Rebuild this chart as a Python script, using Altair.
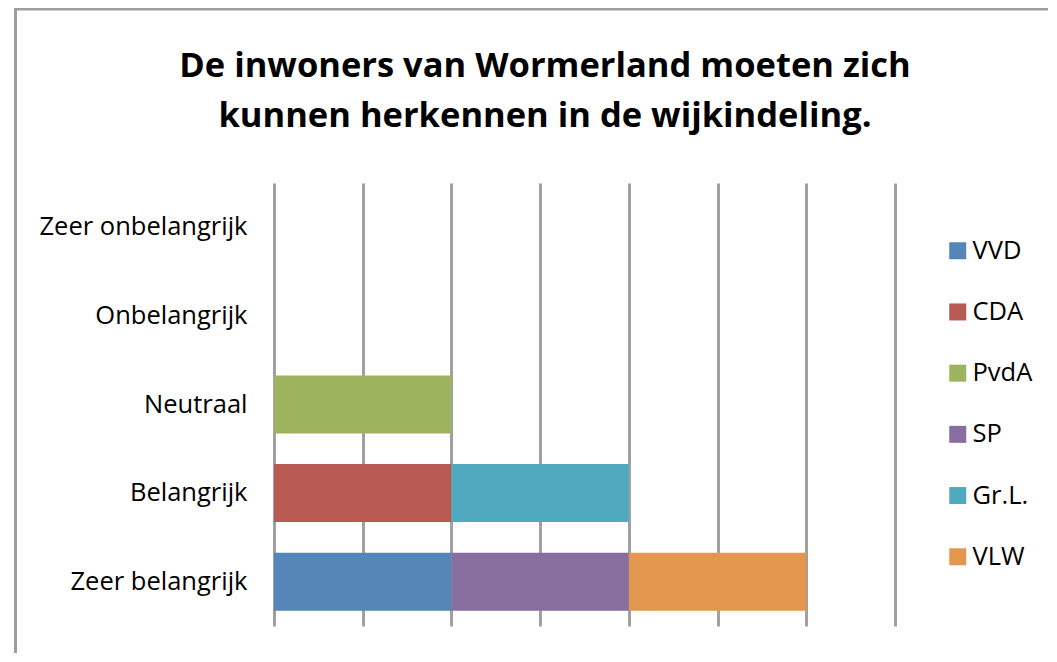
import altair as alt
import pandas as pd

categories = ["Zeer onbelangrijk", "Onbelangrijk", "Neutraal", "Belangrijk", "Zeer belangrijk"]
parties = ["VVD", "CDA", "PvdA", "SP", "Gr.L.", "VLW"]
colors = ["#5586b7", "#b95a52", "#9db35e", "#876e9e", "#4fa9bf", "#e3974e"]
# responses per party: (category, value)
vvd = {"Zeer belangrijk": 1}
cda = {"Belangrijk": 1}
pvda = {"Neutraal": 1}
sp = {"Zeer belangrijk": 1}
grl = {"Belangrijk": 1}
vlw = {"Zeer belangrijk": 1}
title_lines = ["De inwoners van Wormerland moeten zich", "kunnen herkennen in de wijkindeling."]

rows = []
for i, (p, d) in enumerate(zip(parties, [vvd, cda, pvda, sp, grl, vlw])):
    for c, v in d.items():
        rows.append({"cat": c, "party": p, "value": v, "ord": i})
df = pd.DataFrame(rows)

FONT = "Open Sans"
W, H = 621, 443
PL, PT = 266, 175
OX, OY = 274, 183  # page position of plot origin

bars = alt.Chart(df).mark_bar(stroke=None).encode(
    y=alt.Y("cat:N", sort=categories, scale=alt.Scale(domain=categories, paddingInner=0.345, paddingOuter=0.1725),
            axis=alt.Axis(title=None, labelFontSize=25.5, labelFont=FONT, labelColor="#000000",
                          labelPadding=27, labelLimit=400, ticks=False, domain=False, grid=False)),
    x=alt.X("value:Q", stack="zero", scale=alt.Scale(domain=[0, 3.5], nice=False),
            axis=alt.Axis(title=None, labels=False, ticks=False, domain=False, grid=True,
                          values=[0, 0.5, 1, 1.5, 2, 2.5, 3, 3.5],
                          gridColor="#a0a0a0", gridWidth=3, gridOpacity=1)),
    color=alt.Color("party:N", scale=alt.Scale(domain=parties, range=colors),
                    legend=alt.Legend(title=None, orient="none", legendX=671, legendY=55,
                                      symbolType="square", symbolSize=289, symbolStrokeWidth=0,
                                      labelFontSize=25.5, labelFont=FONT, labelColor="#000000",
                                      labelOffset=2, rowPadding=34.2, padding=0)),
    order=alt.Order("ord:Q"),
)

blank = alt.Data(values=[{}])
title1 = alt.Chart(blank).mark_text(fontSize=34.5, fontWeight="bold", font=FONT, color="#000000",
                                    align="center", baseline="alphabetic").encode(
    x=alt.value(545 - OX), y=alt.value(77 - OY), text=alt.value(title_lines[0]))
title2 = alt.Chart(blank).mark_text(fontSize=34.5, fontWeight="bold", font=FONT, color="#000000",
                                    align="center", baseline="alphabetic").encode(
    x=alt.value(545 - OX), y=alt.value(127 - OY), text=alt.value(title_lines[1]))
frame_left = alt.Chart(blank).mark_rule(color="#9e9e9e", strokeWidth=3).encode(
    x=alt.value(15.5 - OX), y=alt.value(-PT), y2=alt.value(700))
frame_top = alt.Chart(blank).mark_rule(color="#9e9e9e", strokeWidth=3).encode(
    x=alt.value(14 - OX), x2=alt.value(1100), y=alt.value(-PT + 1))

chart = alt.layer(bars, title1, title2, frame_left, frame_top).properties(
    width=W, height=H,
    autosize=alt.AutoSizeParams(type="none"),
    padding={"left": PL, "top": PT, "right": 1040 - PL - W, "bottom": 645 - PT - H},
).configure(background="#ffffff").configure_view(stroke=None, strokeWidth=0)

chart.save("out.html", embed_options={"renderer": "svg", "actions": False})
